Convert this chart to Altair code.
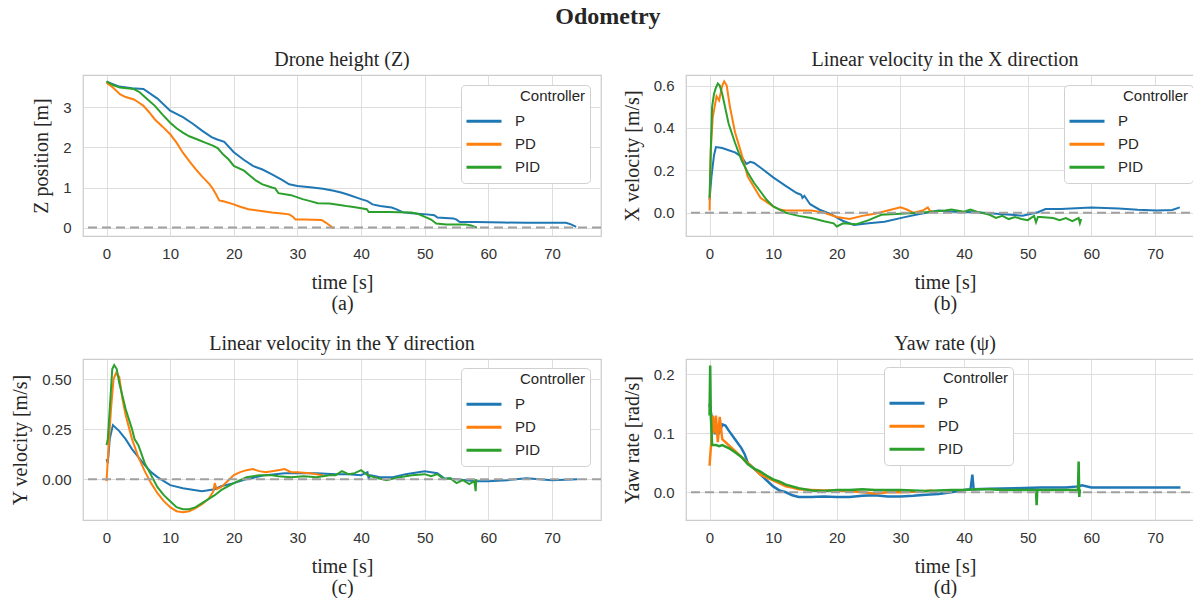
import altair as alt
import pandas as pd

CONTROLLERS = ["P", "PD", "PID"]
COLORS = ["#1f77b4", "#ff7f0e", "#2ca02c"]
X_TICKS = [0, 10, 20, 30, 40, 50, 60, 70]

# ---------------- (a) Drone height (Z) ----------------
z_p_t = [0, 2, 4, 5.8, 8, 10, 12, 13.5, 15, 16.5, 17.4, 18.5, 20, 21.5, 23, 24.5, 26, 27.5, 28.7, 30,
         32, 34, 35.7, 37, 38, 40, 41, 41.8, 43, 44.8, 45.5, 46.6, 48, 50.3, 51.5, 52, 54.5, 55, 55.5,
         58, 62.5, 66, 70, 72.2, 73, 73.8]
z_p_v = [3.64, 3.52, 3.48, 3.46, 3.22, 2.92, 2.76, 2.6, 2.42, 2.26, 2.2, 2.14, 1.88, 1.7, 1.54, 1.45,
         1.33, 1.2, 1.08, 1.04, 1.01, 0.97, 0.92, 0.87, 0.82, 0.71, 0.66, 0.58, 0.54, 0.5, 0.46, 0.38,
         0.36, 0.33, 0.31, 0.25, 0.23, 0.2, 0.14, 0.14, 0.125, 0.12, 0.12, 0.12, 0.08, 0.02]
z_pd_t = [0, 1, 2.1, 3, 4.3, 5, 5.8, 6.7, 7.6, 8.8, 10, 11, 12, 13, 14, 15, 16.2, 16.7, 17.2, 17.7,
          18.5, 20, 21, 22.3, 24, 26, 27.5, 28.7, 29.3, 29.7, 31, 33.8, 34.5, 35.2, 35.7]
z_pd_v = [3.62, 3.5, 3.33, 3.26, 3.2, 3.13, 3.04, 2.88, 2.7, 2.52, 2.33, 2.12, 1.87, 1.66, 1.46, 1.28,
          1.08, 0.97, 0.83, 0.68, 0.65, 0.58, 0.52, 0.46, 0.42, 0.375, 0.35, 0.33, 0.27, 0.2, 0.2, 0.19,
          0.12, 0.04, -0.02]
z_pid_t = [0, 1, 2.1, 4.3, 5.2, 6.1, 7.6, 8.8, 10, 11, 12, 13, 14.3, 15.5, 16.8, 17.5, 18.3, 19.2, 20,
           21.6, 22.5, 23.5, 24.5, 26, 26.5, 27, 29, 30.8, 32, 33.2, 35, 36.9, 38, 39.3, 40.9, 41.2,
           44.3, 46, 47.9, 49, 50.3, 51, 51.8, 53.4, 56.4, 57.3, 58.2]
z_pid_v = [3.65, 3.56, 3.5, 3.46, 3.38, 3.25, 3.04, 2.82, 2.62, 2.48, 2.37, 2.28, 2.2, 2.12, 2.04, 1.98,
           1.83, 1.7, 1.54, 1.42, 1.3, 1.17, 1.08, 1.0, 0.98, 0.86, 0.81, 0.71, 0.66, 0.61, 0.6, 0.56,
           0.53, 0.5, 0.46, 0.39, 0.39, 0.38, 0.375, 0.34, 0.25, 0.2, 0.1, 0.08, 0.08, 0.05, 0.0]

# ---------------- (b) Linear velocity X ----------------
vx_p_t = [0, 0.3, 0.7, 1.0, 2, 3, 4, 5, 5.8, 6.4, 7, 8.3, 10, 11.9, 13.7, 14.4, 14.6, 14.9, 15.8, 17.3,
          19, 20.9, 22.7, 25, 27.5, 30.5, 33, 36, 38.4, 42, 45.6, 49.2, 51.6, 52.8, 55.2, 60, 64.3,
          67.3, 70.3, 72.7, 73.9]
vx_p_v = [0.06, 0.17, 0.27, 0.31, 0.305, 0.295, 0.285, 0.265, 0.23, 0.24, 0.235, 0.206, 0.167, 0.128,
          0.093, 0.085, 0.07, 0.08, 0.04, 0.014, -0.006, -0.038, -0.058, -0.05, -0.043, -0.022, -0.006,
          0.01, 0.005, 0.002, -0.006, -0.014, 0.002, 0.017, 0.018, 0.025, 0.02, 0.014, 0.01, 0.013, 0.025]
vx_pd_t = [0, 0.2, 0.5, 0.8, 1.1, 1.5, 2.0, 2.3, 2.7, 3.2, 4, 5, 6, 7, 8, 9, 10, 11, 12, 14, 16, 18,
           20, 22, 24, 26, 28, 30, 31, 32, 33.5, 34.3, 34.7, 35]
vx_pd_v = [0.01, 0.3, 0.45, 0.5, 0.55, 0.53, 0.6, 0.62, 0.6, 0.5, 0.38, 0.28, 0.17, 0.12, 0.07, 0.05,
           0.03, 0.015, 0.01, 0.01, 0.01, 0.0, -0.02, -0.03, -0.015, -0.005, 0.01, 0.025, 0.015, 0.0,
           0.01, 0.025, 0.005, 0.01]
vx_pid_t = [0, 0.2, 0.4, 0.7, 1.0, 1.3, 1.6, 2, 3, 4, 5, 6, 7, 8, 9, 10, 12, 14, 16, 18, 19.5, 20, 21,
            23, 25, 27, 30, 33, 35, 37, 38, 40, 41, 42, 44, 45, 46, 47, 48, 49, 50, 51, 51.3, 51.6, 52,
            54, 55, 56, 57, 58, 58.2, 58.4]
vx_pid_v = [0.07, 0.3, 0.5, 0.56, 0.59, 0.61, 0.6, 0.56, 0.42, 0.33, 0.25, 0.19, 0.14, 0.1, 0.06, 0.03,
            0.0, -0.015, -0.025, -0.04, -0.05, -0.065, -0.05, -0.055, -0.035, -0.01, -0.005, 0.0,
            0.005, 0.01, 0.015, 0.005, 0.015, 0.005, -0.01, -0.025, -0.015, -0.03, -0.02, -0.03,
            -0.035, -0.015, -0.045, -0.02, -0.02, -0.025, -0.035, -0.025, -0.04, -0.025, -0.05, -0.03]

# ---------------- (c) Linear velocity Y ----------------
vy_p_t = [0, 0.2, 0.5, 1, 2, 3, 4, 5, 6, 7, 8, 9, 10, 12, 14, 15, 16, 17, 18, 20, 22, 25, 28, 30, 33,
          36, 38, 40, 41, 41.2, 41.4, 43, 45, 47, 49, 50, 51, 52, 53, 55, 58, 60, 63, 66, 70, 74]
vy_p_v = [0.1, 0.08, 0.2, 0.27, 0.24, 0.2, 0.15, 0.11, 0.07, 0.035, 0.01, -0.01, -0.03, -0.045, -0.055,
          -0.06, -0.055, -0.05, -0.035, -0.02, 0.0, 0.02, 0.03, 0.03, 0.03, 0.025, 0.025, 0.02, 0.035,
          0.0, 0.02, 0.01, 0.01, 0.025, 0.035, 0.04, 0.035, 0.03, 0.005, 0.0, -0.01, -0.01, -0.005,
          0.005, -0.005, 0.0]
vy_pd_t = [0, 0.3, 0.7, 1.1, 1.5, 2, 2.5, 3, 4, 5, 6, 7, 8, 9, 10, 11, 12, 13, 14, 15, 16, 16.8, 17,
           17.3, 18, 19, 20, 21, 22, 23, 24, 25, 26, 27, 28, 29, 30, 32, 33, 34]
vy_pd_v = [-0.01, 0.15, 0.35, 0.5, 0.53, 0.51, 0.4, 0.32, 0.2, 0.11, 0.04, -0.02, -0.07, -0.11, -0.14,
           -0.16, -0.165, -0.16, -0.145, -0.125, -0.1, -0.06, -0.02, -0.05, -0.04, -0.01, 0.02, 0.035,
           0.045, 0.05, 0.04, 0.035, 0.04, 0.045, 0.05, 0.035, 0.035, 0.03, 0.025, 0.02]
vy_pid_t = [0, 0.2, 0.5, 0.9, 1.2, 1.6, 2, 3, 4, 4.4, 5, 6, 7, 8, 9, 10, 11, 12, 13, 14, 15, 16, 17,
            18, 20, 22, 24, 26, 27, 29, 31, 33, 35, 36, 37, 38, 39, 40, 41, 42, 44, 46, 48, 50, 51, 52,
            53, 54, 55, 56, 57, 57.8, 58, 58.1]
vy_pid_v = [0.17, 0.2, 0.35, 0.55, 0.57, 0.55, 0.48, 0.35, 0.25, 0.2, 0.17, 0.08, 0.02, -0.04, -0.08,
            -0.11, -0.14, -0.15, -0.15, -0.14, -0.12, -0.1, -0.08, -0.055, -0.02, 0.01, 0.02, 0.02,
            0.015, 0.01, 0.015, 0.01, 0.02, 0.02, 0.04, 0.025, 0.03, 0.045, 0.02, 0.01, -0.005, 0.01,
            0.02, 0.025, 0.015, 0.025, 0.0, 0.005, -0.02, -0.005, -0.025, -0.01, -0.06, 0.0]

# ---------------- (d) Yaw rate ----------------
yaw_p_t = [0, 0.3, 0.8, 1.5, 2, 2.5, 3, 4, 5, 5.5, 6, 7, 8, 9, 10, 11, 12, 13, 14, 16, 18, 20, 22, 24,
           26, 28, 30, 32, 34, 36, 38, 40, 41, 41.3, 41.5, 44, 48, 52, 56, 58, 58.5, 60, 65, 70, 74]
yaw_p_v = [0.15, 0.13, 0.1, 0.1, 0.115, 0.113, 0.105, 0.09, 0.075, 0.065, 0.05, 0.04, 0.03, 0.02, 0.01,
           0.003, 0.0, -0.005, -0.008, -0.008, -0.007, -0.008, -0.008, -0.006, -0.005, -0.007, -0.007,
           -0.006, -0.004, -0.003, 0.0, 0.004, 0.005, 0.03, 0.005, 0.006, 0.007, 0.008, 0.008, 0.01,
           0.012, 0.008, 0.008, 0.008, 0.008]
yaw_pd_t = [0, 0.3, 0.5, 0.8, 1.0, 1.3, 1.6, 2, 3, 4, 5, 6, 7, 8, 9, 10, 11, 12, 13, 14, 16, 18, 20,
            22, 24, 26, 28, 30, 32, 34, 35]
yaw_pd_v = [0.045, 0.09, 0.13, 0.1, 0.13, 0.085, 0.128, 0.09, 0.08, 0.07, 0.06, 0.05, 0.04, 0.03,
            0.025, 0.02, 0.015, 0.01, 0.008, 0.005, 0.004, 0.003, 0.003, 0.002, 0.0, -0.002, 0.0, 0.0,
            0.001, 0.002, 0.003]
yaw_pid_t = [0, 0.1, 0.2, 0.4, 1, 1.5, 2, 3, 4, 5, 6, 7, 8, 9, 10, 11, 12, 13, 14, 16, 18, 20, 22, 24,
             26, 28, 30, 32, 34, 36, 38, 40, 42, 44, 46, 48, 50, 51.3, 51.4, 51.5, 54, 56, 57.9, 58,
             58.1, 58.2]
yaw_pid_v = [0.13, 0.215, 0.13, 0.08, 0.08, 0.078, 0.08, 0.075, 0.068, 0.06, 0.048, 0.04, 0.035, 0.028,
             0.022, 0.018, 0.013, 0.01, 0.007, 0.003, 0.002, 0.004, 0.004, 0.005, 0.004, 0.004, 0.004,
             0.003, 0.002, 0.003, 0.004, 0.004, 0.005, 0.005, 0.004, 0.004, 0.004, 0.004, -0.022, 0.004,
             0.004, 0.004, 0.004, 0.052, -0.008, 0.005]

SERIF = "Liberation Serif"
SANS = "Liberation Sans"
BLANK = "\u2800"
LEGEND_TITLE = BLANK * 5 + "Controller"


def frame(series):
    rows = []
    for name, ts, vs in series:
        for t, v in zip(ts, vs):
            rows.append({"t": t, "v": v, "Controller": name})
    return pd.DataFrame(rows)


def make_legend(x, y):
    return alt.Legend(
        title=LEGEND_TITLE, orient="none", legendX=x, legendY=y,
        fillColor="white", strokeColor="#d0d0d0", cornerRadius=4, padding=4,
        symbolType="stroke", symbolStrokeWidth=3, symbolSize=1225, clipHeight=22.5, rowPadding=0,
        labelOffset=12,
        labelFont=SANS, labelFontSize=15, labelColor="#262626",
        titleFont=SANS, titleFontSize=15, titleFontWeight="normal", titleColor="#262626",
        titleAnchor="start", titleAlign="left", titlePadding=6,
    )


def panel(df, title, ytitle, caption, ydom, yticks, yfmt, legend, ytp=11, sw=2):
    lines = alt.Chart(df).mark_line(strokeWidth=sw, clip=True).encode(
        x=alt.X("t:Q", scale=alt.Scale(domain=[-3.7, 77.7], nice=False, zero=False),
                axis=alt.Axis(values=X_TICKS, title=["time [s]", caption], titlePadding=11,
                              titleLineHeight=21)),
        y=alt.Y("v:Q", scale=alt.Scale(domain=ydom, nice=False, zero=False),
                axis=alt.Axis(values=yticks, format=yfmt, title=ytitle, titlePadding=ytp)),
        color=alt.Color("Controller:N", scale=alt.Scale(domain=CONTROLLERS, range=COLORS),
                        legend=legend),
    )
    zero = alt.Chart(pd.DataFrame({"y": [0]})).mark_rule(
        color="#a0a0a0", strokeDash=[9, 5], strokeWidth=2
    ).encode(y="y:Q")
    return alt.layer(lines, zero).properties(
        width=518, height=161,
        title=alt.TitleParams(title, font=SERIF, fontSize=20, fontWeight="normal",
                              color="#262626", offset=5),
    )


pa = panel(frame([("P", z_p_t, z_p_v), ("PD", z_pd_t, z_pd_v), ("PID", z_pid_t, z_pid_v)]),
           "Drone height (Z)", "Z position [m]", "(a)", [-0.21, 3.81], [0, 1, 2, 3], "d",
           make_legend(378, 10))
pb = panel(frame([("P", vx_p_t, vx_p_v), ("PD", vx_pd_t, vx_pd_v), ("PID", vx_pid_t, vx_pid_v)]),
           "Linear velocity in the X direction", "X velocity [m/s]", "(b)", [-0.11, 0.65],
           [0.0, 0.2, 0.4, 0.6], ".1f", make_legend(378, 10))
pc = panel(frame([("P", vy_p_t, vy_p_v), ("PD", vy_pd_t, vy_pd_v), ("PID", vy_pid_t, vy_pid_v)]),
           "Linear velocity in the Y direction", "Y velocity [m/s]", "(c)", [-0.204, 0.6],
           [0.0, 0.25, 0.5], ".2f", make_legend(378, 9))
pd_ = panel(frame([("P", yaw_p_t, yaw_p_v), ("PD", yaw_pd_t, yaw_pd_v), ("PID", yaw_pid_t, yaw_pid_v)]),
            "Yaw rate (\u03c8)", "Yaw rate [rad/s]", "(d)", [-0.047, 0.226], [0.0, 0.1, 0.2], ".1f",
            make_legend(198, 8), sw=2.5)

chart = alt.concat(pa, pb, pc, pd_, columns=2, spacing={"row": 19, "column": 18}).resolve_scale(
    x="independent", y="independent", color="shared"
).resolve_legend(color="independent").properties(
    title=alt.TitleParams("Odometry", font=SERIF, fontSize=24, fontWeight="bold", color="#262626",
                          anchor="middle", offset=20),
    padding={"left": 2, "top": -3, "right": -13, "bottom": 0},
).configure_view(
    stroke="#cccccc", strokeWidth=1.25
).configure_axis(
    labelFont=SANS, labelFontSize=15, labelColor="#333333", labelPadding=10,
    titleFont=SERIF, titleFontSize=20, titleFontWeight="normal", titleColor="#262626",
    ticks=False, tickSize=0, domain=False, grid=True, gridColor="#dedede", gridWidth=1,
).configure_axisY(labelPadding=12)

chart.save("out.html", embed_options={"renderer": "svg", "actions": False})
